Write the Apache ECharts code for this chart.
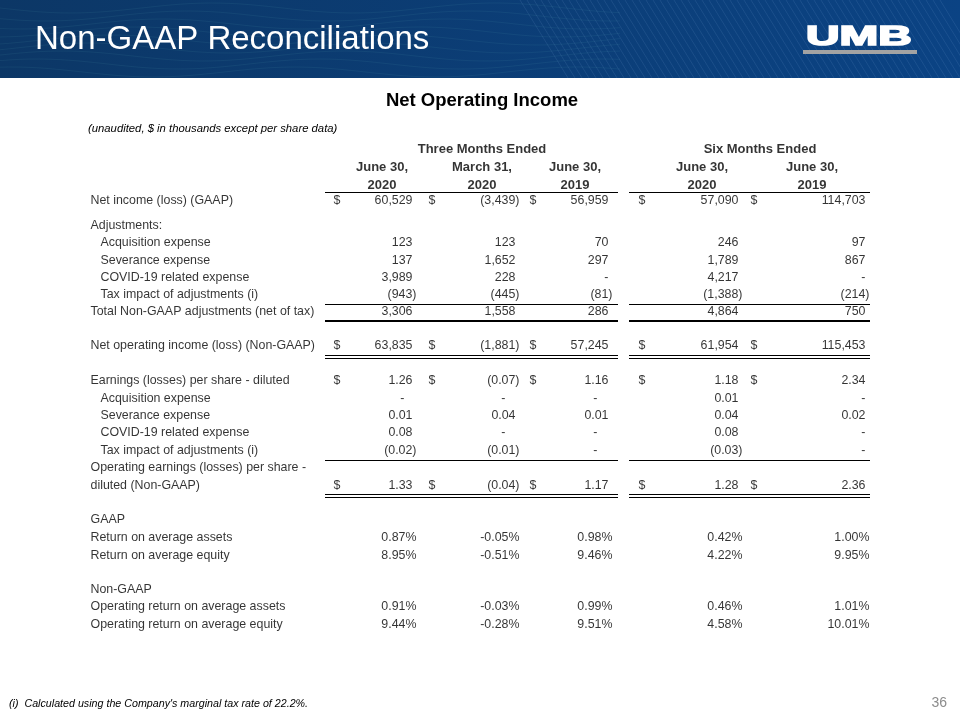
<!DOCTYPE html>
<html><head><meta charset="utf-8">
<script src="https://cdn.jsdelivr.net/npm/echarts@6/dist/echarts.min.js"></script>
<style>html,body{margin:0;padding:0;background:#fff}#c{width:960px;height:720px}</style>
</head><body><div id="c"></div>
<script>
// ---------- DATA ----------
const pageTitle = "Non-GAAP Reconciliations";
const tableTitle = "Net Operating Income";
const unitNote = "(unaudited, $ in thousands except per share data)";
const footnote = "(i)  Calculated using the Company's marginal tax rate of 22.2%.";
const pageNumber = "36";
const groupHeaders = ["Three Months Ended", "Six Months Ended"];
const colHeaderLine1 = ["June 30,", "March 31,", "June 30,", "June 30,", "June 30,"];
const colHeaderLine2 = ["2020", "2020", "2019", "2020", "2019"];
const rowLabels = [
  "Net income (loss) (GAAP)",
  "Adjustments:",
  "Acquisition expense",
  "Severance expense",
  "COVID-19 related expense",
  "Tax impact of adjustments (i)",
  "Total Non-GAAP adjustments (net of tax)",
  "Net operating income (loss) (Non-GAAP)",
  "Earnings (losses) per share - diluted",
  "Acquisition expense",
  "Severance expense",
  "COVID-19 related expense",
  "Tax impact of adjustments (i)",
  "Operating earnings (losses) per share -\ndiluted (Non-GAAP)",
  "GAAP",
  "Return on average assets",
  "Return on average equity",
  "Non-GAAP",
  "Operating return on average assets",
  "Operating return on average equity"
];
const rowFormat = ['k',null,'k','k','k','k','k','k','eps','eps','eps','eps','eps','eps',null,'pct','pct',null,'pct','pct'];
const rowHasDollar = [1,0,0,0,0,0,0,1,1,0,0,0,0,1,0,0,0,0,0,0];
const threeMonthsJun2020 = [60529,null,123,137,3989,-943,3306,63835,1.26,0,0.01,0.08,-0.02,1.33,null,0.87,8.95,null,0.91,9.44];
const threeMonthsMar2020 = [-3439,null,123,1652,228,-445,1558,-1881,-0.07,0,0.04,0,-0.01,-0.04,null,-0.05,-0.51,null,-0.03,-0.28];
const threeMonthsJun2019 = [56959,null,70,297,0,-81,286,57245,1.16,0,0.01,0,0,1.17,null,0.98,9.46,null,0.99,9.51];
const sixMonthsJun2020 = [57090,null,246,1789,4217,-1388,4864,61954,1.18,0.01,0.04,0.08,-0.03,1.28,null,0.42,4.22,null,0.46,4.58];
const sixMonthsJun2019 = [114703,null,97,867,0,-214,750,115453,2.34,0,0.02,0,0,2.36,null,1.00,9.95,null,1.01,10.01];
const columns = [threeMonthsJun2020, threeMonthsMar2020, threeMonthsJun2019, sixMonthsJun2020, sixMonthsJun2019];

// ---------- LAYOUT (styles / positions) ----------
const FONT = "'Liberation Sans', Arial, sans-serif";
const rowIndent = [0,0,1,1,1,1,0,0,0,1,1,1,1,0,0,0,0,0,0,0];
const rowY = [201,226,243,261,278,295,312,346,381,399,416,433,451,486,520,538,556,590,607,625];
const lineGap = 18;
const labelX = [90, 100];
const colRight = [417, 520, 613, 743, 870];
const colDollar = [337, 432, 533, 642, 754];
const colHeadCenter = [382, 482, 575, 702, 812];
const groupCenter = [482, 760];
const headY = [149, 167, 185];
const posPad = 4;
const epsDashPad = [12, 14, 15, 12, 4];
const segs = [[325, 618], [629, 870]];
const rules = [
  {y: 192.5, w: 1.2}, {y: 304.5, w: 1}, {y: 321, w: 2.2},
  {y: 355.5, w: 1}, {y: 358.5, w: 1},
  {y: 460.5, w: 1}, {y: 494.5, w: 1}, {y: 497.5, w: 1}
];

// ---------- FORMAT ----------
function fmt(v, f) {
  if (v === null || v === undefined) return '';
  if (f === 'pct') return v.toFixed(2) + '%';
  if (v === 0) return '-';
  let s = f === 'eps' ? Math.abs(v).toFixed(2) : Math.abs(v).toLocaleString('en-US');
  return v < 0 ? '(' + s + ')' : s;
}

const labelData = [];
rowLabels.forEach((lab, r) => {
  const parts = lab.split('\n');
  parts.forEach((p, i) => {
    labelData.push({name: p, value: [labelX[rowIndent[r]], rowY[r] - (parts.length - 1 - i) * lineGap]});
  });
});
const valueData = [];
columns.forEach((col, c) => {
  col.forEach((v, r) => {
    if (v === null) return;
    const f = rowFormat[r];
    const t = fmt(v, f);
    let pad = 0;
    if (f !== 'pct') {
      if (t === '-') pad = f === 'eps' ? epsDashPad[c] : posPad;
      else if (t[0] !== '(') pad = posPad;
    }
    valueData.push({name: t, value: [colRight[c] - pad, rowY[r]]});
  });
});
const centerData = [];
rowHasDollar.forEach((d, r) => {
  if (!d) return;
  colDollar.forEach(x => centerData.push({name: '$', value: [x, rowY[r]]}));
});
const headData = [];
groupHeaders.forEach((g, i) => headData.push({name: g, value: [groupCenter[i], headY[0]]}));
colHeaderLine1.forEach((h, i) => headData.push({name: h, value: [colHeadCenter[i], headY[1]]}));
colHeaderLine2.forEach((h, i) => headData.push({name: h, value: [colHeadCenter[i], headY[2]]}));
const lineData = [];
rules.forEach(rl => segs.forEach(s => lineData.push({coords: [[s[0], rl.y], [s[1], rl.y]], lineStyle: {width: rl.w, color: '#000', opacity: 1}})));

// ---------- BANNER DECORATION ----------
const deco = [];
for (let x = 520; x <= 940; x += 7) {
  deco.push({type: 'line', shape: {x1: x, y1: 0, x2: x + 48, y2: 78}, style: {stroke: 'rgba(140,185,235,0.18)', lineWidth: 0.7}, silent: true});
}
for (let k = 0; k < 9; k++) {
  const pts = [];
  for (let x = 0; x <= 620; x += 10) pts.push([x, 8 + k * 8 + 5 * Math.sin((x + k * 25) / 45)]);
  deco.push({type: 'polyline', shape: {points: pts}, style: {stroke: 'rgba(110,190,200,0.12)', lineWidth: 0.7, fill: null}, silent: true});
}

const chart = echarts.init(document.getElementById('c'), null, {renderer: 'canvas'});
const baseLabel = {show: true, fontFamily: FONT, fontSize: 12.4, color: '#000', distance: 0, formatter: '{b}'};
const scatterBase = {type: 'scatter', symbol: 'rect', symbolSize: 1, itemStyle: {color: 'rgba(0,0,0,0)'}, silent: true, emphasis: {disabled: true}};
chart.setOption({
  animation: false,
  backgroundColor: '#fff',
  grid: {left: 0, right: 0, top: 0, bottom: 0},
  xAxis: {type: 'value', min: 0, max: 960, show: false},
  yAxis: {type: 'value', min: 0, max: 720, inverse: true, show: false},
  graphic: [
    {type: 'rect', shape: {x: 0, y: 0, width: 960, height: 78}, silent: true, z: -10,
     style: {fill: new echarts.graphic.LinearGradient(0, 0, 1, 1, [{offset: 0, color: '#0c3766'}, {offset: 1, color: '#0b4384'}])}},
    {type: 'group', children: deco, z: -9},
    {type: 'text', x: 35, y: 40, silent: true, style: {text: pageTitle, fill: '#fff', font: "33px " + FONT, textVerticalAlign: 'middle', textAlign: 'left'}},
    {type: 'text', x: 806, y: 37.5, scaleX: 1.72, scaleY: 1, silent: true, style: {text: 'UMB', fill: '#fff', stroke: '#fff', lineWidth: 1.6, font: "900 27px " + FONT, textVerticalAlign: 'middle', textAlign: 'left'}},
    {type: 'rect', shape: {x: 803, y: 50, width: 114, height: 4}, silent: true, style: {fill: '#a3a3a3'}},
    {type: 'text', x: 482, y: 101, silent: true, style: {text: tableTitle, fill: '#000', font: "bold 18.5px " + FONT, textAlign: 'center', textVerticalAlign: 'middle'}},
    {type: 'text', x: 88, y: 129, silent: true, style: {text: unitNote, fill: '#000', font: "italic 11.3px " + FONT, textAlign: 'left', textVerticalAlign: 'middle'}},
    {type: 'text', x: 9, y: 704, silent: true, style: {text: footnote, fill: '#000', font: "italic 10.7px " + FONT, textAlign: 'left', textVerticalAlign: 'middle'}},
    {type: 'text', x: 947, y: 703, silent: true, style: {text: pageNumber, fill: '#8c8c8c', font: "14px " + FONT, textAlign: 'right', textVerticalAlign: 'middle'}}
  ],
  series: [
    Object.assign({}, scatterBase, {name: 'rowLabels', data: labelData, label: Object.assign({}, baseLabel, {position: 'right'})}),
    Object.assign({}, scatterBase, {name: 'values', data: valueData, label: Object.assign({}, baseLabel, {position: 'left'})}),
    Object.assign({}, scatterBase, {name: 'dollars', data: centerData, label: Object.assign({}, baseLabel, {position: 'inside'})}),
    Object.assign({}, scatterBase, {name: 'headers', data: headData, label: Object.assign({}, baseLabel, {position: 'inside', fontWeight: 'bold', fontSize: 13})}),
    {type: 'lines', name: 'rules', coordinateSystem: 'cartesian2d', silent: true, data: lineData, lineStyle: {color: '#000', opacity: 1}}
  ]
});
</script></body></html>
